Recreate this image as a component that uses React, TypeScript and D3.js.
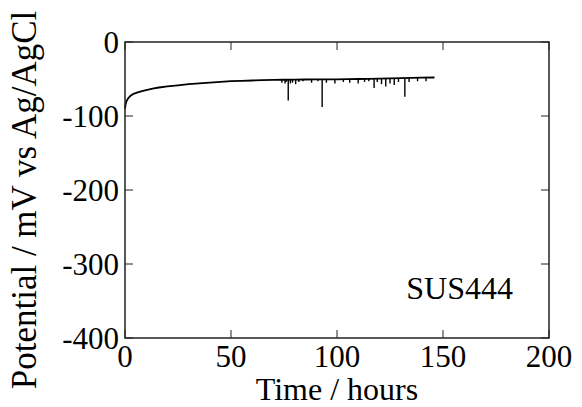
import * as d3 from 'd3';

// main potential trace (hours, mV)
const times = [0, 0.3, 0.7, 1.5, 2.5, 4, 6, 8, 10, 13, 16, 20, 25, 30, 35, 40, 45, 50, 55, 60, 65, 70, 75, 80, 85, 90, 95, 100, 105, 110, 115, 120, 125, 130, 135, 140, 146];
const potentials = [-90, -84, -80, -76, -73, -70, -68, -66.5, -65, -63, -61.5, -60, -58.5, -57, -56, -55, -54, -53, -52.5, -52, -51.5, -51.2, -51, -50.8, -50.7, -50.6, -50.5, -50.4, -50.2, -50, -49.7, -49.4, -49.1, -48.8, -48.5, -48.2, -48];

// downward transients
const spikeTimes = [74, 75.5, 76, 77, 78, 79, 80.5, 82, 84, 88, 91, 93, 95, 99, 103, 106, 110, 113, 115, 117.5, 119, 121, 123, 125, 127, 129, 132, 134, 138, 142];
const spikeTops = [-51, -51, -51, -50.8, -50.8, -50.8, -50.8, -50.8, -50.7, -50.6, -50.6, -50.5, -50.5, -50.4, -50.3, -50.2, -50, -49.8, -49.7, -49.6, -49.5, -49.4, -49.2, -49.1, -49, -49, -48.8, -48.7, -48.4, -48.2];
const spikeBottoms = [-55, -56, -54, -79, -56, -55, -57, -54, -53, -55, -53, -88, -55, -56, -54, -55, -56, -54, -53, -62, -54, -57, -60, -56, -58, -54, -74, -54, -53, -53];

const xTicks = [0, 50, 100, 150, 200];
const yTicks = [0, -100, -200, -300, -400];

const W = 582;
const H = 407;
const margin = { left: 125, right: 33, top: 42, bottom: 69 };
const FONT = "'Liberation Serif', Tinos, 'Times New Roman', Times, FreeSerif, serif";
const AXIS = '#222';
const TICK = 8;

export default function App() {
  const x = d3.scaleLinear().domain([0, 200]).range([margin.left, W - margin.right]);
  const y = d3.scaleLinear().domain([-400, 0]).range([H - margin.bottom, margin.top]);

  const line = d3.line<number>().x((_, i) => x(times[i])).y(d => y(d));

  return (
    <svg width={W} height={H} style={{ position: 'absolute', left: 0, top: 0, fontFamily: FONT }}>
      <style>{`text { font-family: ${FONT}; }`}</style>
      <path d={line(potentials) ?? ''} fill="none" stroke="#000" strokeWidth={1.8} />
      {spikeTimes.map((t, i) => (
        <line key={'s' + i} x1={x(t)} x2={x(t)} y1={y(spikeTops[i])} y2={y(spikeBottoms[i])} stroke="#000" strokeWidth={1.4} />
      ))}

      <rect x={x(0)} y={y(0)} width={x(200) - x(0)} height={y(-400) - y(0)} fill="none" stroke={AXIS} strokeWidth={1.5} />

      <g fontFamily={FONT}>
        {xTicks.map(t => (
          <g key={'x' + t}>
            <line x1={x(t)} x2={x(t)} y1={y(-400)} y2={y(-400) - TICK} stroke={AXIS} strokeWidth={1} />
            <line x1={x(t)} x2={x(t)} y1={y(0)} y2={y(0) + TICK} stroke={AXIS} strokeWidth={1} />
            <text x={x(t)} y={367} textAnchor="middle" fontSize={31}>{t}</text>
          </g>
        ))}

        {yTicks.map(v => (
          <g key={'y' + v}>
            <line x1={x(0)} x2={x(0) + TICK} y1={y(v)} y2={y(v)} stroke={AXIS} strokeWidth={1} />
            <line x1={x(200)} x2={x(200) - TICK} y1={y(v)} y2={y(v)} stroke={AXIS} strokeWidth={1} />
            <text x={x(0) - 6} y={y(v) + 11} textAnchor="end" fontSize={31}>{v}</text>
          </g>
        ))}

        <text x={(x(0) + x(200)) / 2} y={400} textAnchor="middle" fontSize={32}>Time / hours</text>
        <text transform="translate(36,200) rotate(-90)" textAnchor="middle" fontSize={35}>
          Potential / mV vs Ag/AgCl
        </text>
        <text x={513} y={299} textAnchor="end" fontSize={32}>SUS444</text>
      </g>
    </svg>
  );
}
